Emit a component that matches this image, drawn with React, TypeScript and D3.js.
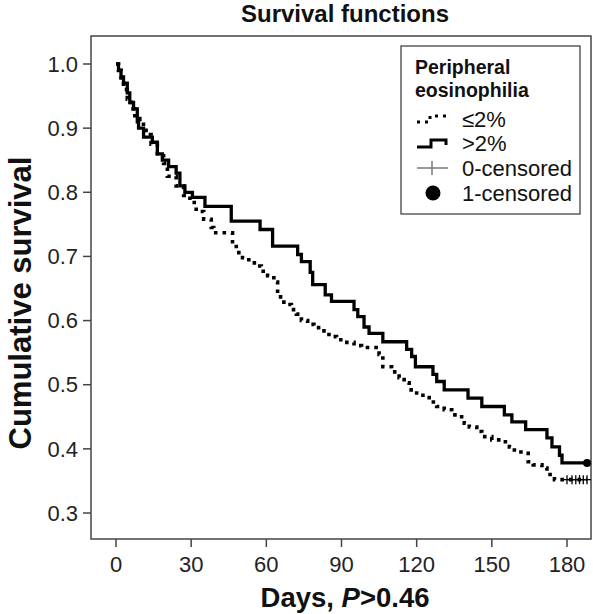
import React from "react";
import * as d3 from "d3";

// ---------- data ----------
const xTicks = [0, 30, 60, 90, 120, 150, 180];
const yTicks = [0.3, 0.4, 0.5, 0.6, 0.7, 0.8, 0.9, 1.0];

// Group ≤2% (dotted)
const lowTimes = [0, 1, 2, 3, 4.5, 6, 7.5, 9.5, 12, 14, 16.5, 19, 20.5, 24, 27, 29.5, 32, 35, 38, 39, 46.5, 48, 50.5, 53, 56, 58, 60.5, 63, 64.5, 67, 70, 72, 74, 76.5, 79, 82, 85, 88, 91, 95, 98, 105, 106.5, 110, 113, 115, 117, 120, 122.5, 125, 128, 131, 134, 137, 139, 141, 144, 146, 150, 154, 157, 159, 163, 164.5, 166.5, 170, 172, 175];
const lowSurv = [1.0, 0.99, 0.975, 0.96, 0.945, 0.93, 0.915, 0.906, 0.89, 0.875, 0.86, 0.845, 0.825, 0.81, 0.795, 0.784, 0.77, 0.758, 0.745, 0.737, 0.72, 0.706, 0.698, 0.69, 0.685, 0.677, 0.67, 0.66, 0.637, 0.625, 0.617, 0.61, 0.6, 0.594, 0.589, 0.584, 0.575, 0.57, 0.566, 0.561, 0.558, 0.547, 0.528, 0.52, 0.511, 0.503, 0.492, 0.487, 0.48, 0.473, 0.466, 0.461, 0.453, 0.45, 0.44, 0.434, 0.427, 0.419, 0.414, 0.411, 0.403, 0.395, 0.393, 0.38, 0.375, 0.37, 0.36, 0.352];
const lowEnd = 188;
const lowCensored = [180, 182, 183.5, 185, 186.5, 188];

// Group >2% (solid)
const highTimes = [0, 1, 2, 3, 4.5, 5.5, 7, 8.5, 9, 11, 14.5, 16.5, 18.5, 21, 24, 25.5, 27.5, 30.5, 35.5, 46, 57.5, 62.5, 72.5, 74, 77.5, 78.5, 83.5, 86, 95, 96.5, 99, 101, 106.5, 116, 118, 119.5, 126.5, 128, 131, 140.5, 146, 155, 158, 163.5, 172, 174, 177, 178];
const highSurv = [1.0, 0.99, 0.98, 0.97, 0.955, 0.94, 0.93, 0.91, 0.9, 0.886, 0.878, 0.86, 0.85, 0.84, 0.83, 0.81, 0.8, 0.792, 0.778, 0.755, 0.742, 0.716, 0.703, 0.692, 0.675, 0.656, 0.64, 0.63, 0.617, 0.606, 0.59, 0.58, 0.567, 0.555, 0.544, 0.528, 0.516, 0.505, 0.492, 0.479, 0.466, 0.453, 0.442, 0.43, 0.417, 0.403, 0.39, 0.378];
const highEnd = 188;
const highCensored = [188];

const legendTitle = ["Peripheral", "eosinophilia"];
const legendLabels = ["≤2%", ">2%", "0-censored", "1-censored"];

// ---------- layout ----------
const W = 593;
const H = 614;
const frame = { left: 91, right: 591, top: 36, bottom: 539 };
const FONT = "'Liberation Sans', Arial, Helvetica, sans-serif";

const x = d3.scaleLinear().domain([0, 180]).range([116, 567]);
const y = d3.scaleLinear().domain([0.3, 1.0]).range([513, 64]);

function stepPoints(times: number[], surv: number[], end: number): [number, number][] {
  const pts: [number, number][] = times.map((t, i) => [t, surv[i]]);
  pts.push([end, surv[surv.length - 1]]);
  return pts;
}

const line = d3
  .line<[number, number]>()
  .x((d) => x(d[0]))
  .y((d) => y(d[1]))
  .curve(d3.curveStepAfter);

export default function App() {
  const lowPath = line(stepPoints(lowTimes, lowSurv, lowEnd)) || "";
  const highPath = line(stepPoints(highTimes, highSurv, highEnd)) || "";
  const lowLast = lowSurv[lowSurv.length - 1];
  const highLast = highSurv[highSurv.length - 1];
  const fmt = d3.format(".1f");

  const lg = { x: 401, y: 46, w: 179, h: 168 };
  const rowY = [119, 143, 168, 193];

  return (
    <svg
      width={W}
      height={H}
      style={{ position: "absolute", left: 0, top: 0, background: "#fff" }}
      fontFamily={FONT}
    >
      <rect x={0} y={0} width={W} height={H} fill="#fff" />
      {/* title */}
      <text x={345} y={22} textAnchor="middle" fontSize={24} fontWeight="bold" fill="#111">
        Survival functions
      </text>

      {/* frame */}
      <rect
        x={frame.left}
        y={frame.top}
        width={frame.right - frame.left}
        height={frame.bottom - frame.top}
        fill="none"
        stroke="#444"
        strokeWidth={1.5}
      />

      {/* y ticks */}
      {yTicks.map((t) => (
        <g key={"y" + t}>
          <line x1={frame.left - 8} x2={frame.left} y1={y(t)} y2={y(t)} stroke="#444" strokeWidth={1.5} />
          <text x={frame.left - 13} y={y(t)} dy="0.35em" textAnchor="end" fontSize={22} fill="#222">
            {fmt(t)}
          </text>
        </g>
      ))}

      {/* x ticks */}
      {xTicks.map((t) => (
        <g key={"x" + t}>
          <line x1={x(t)} x2={x(t)} y1={frame.bottom} y2={frame.bottom + 8} stroke="#444" strokeWidth={1.5} />
          <text x={x(t)} y={frame.bottom + 25} dy="0.35em" textAnchor="middle" fontSize={22} fill="#222">
            {t}
          </text>
        </g>
      ))}

      {/* axis titles */}
      <text x={345} y={607} textAnchor="middle" fontSize={27.5} fontWeight="bold" fill="#111">
        Days, <tspan fontStyle="italic">P</tspan>&gt;0.46
      </text>
      <text
        transform={`translate(31, 303) rotate(-90)`}
        textAnchor="middle"
        fontSize={31}
        fontWeight="bold"
        fill="#111"
      >
        Cumulative survival
      </text>

      {/* curves */}
      <path d={lowPath} fill="none" stroke="#000" strokeWidth={3.6} strokeDasharray="3.6,5" />
      <path d={highPath} fill="none" stroke="#000" strokeWidth={3.3} />

      {/* censor marks */}
      {lowCensored.map((t, i) => (
        <g key={"c0" + i} stroke="#000" strokeWidth={1.3}>
          <line x1={x(t) - 4} x2={x(t) + 4} y1={y(lowLast)} y2={y(lowLast)} />
          <line x1={x(t)} x2={x(t)} y1={y(lowLast) - 4.5} y2={y(lowLast) + 4.5} />
        </g>
      ))}
      {highCensored.map((t, i) => (
        <circle key={"c1" + i} cx={x(t)} cy={y(highLast)} r={4} fill="#000" />
      ))}

      {/* legend */}
      <rect x={lg.x} y={lg.y} width={lg.w} height={lg.h} fill="#fff" stroke="#444" strokeWidth={1.3} />
      <text x={415} y={67} dy="0.35em" fontSize={19.5} fontWeight="bold" fill="#111">
        {legendTitle[0]}
      </text>
      <text x={415} y={90} dy="0.35em" fontSize={19.5} fontWeight="bold" fill="#111">
        {legendTitle[1]}
      </text>
      <path
        d={`M417,${rowY[0] + 3} H430 V${rowY[0] - 3} H446 V${rowY[0] + 1}`}
        fill="none"
        stroke="#000"
        strokeWidth={3}
        strokeDasharray="3,5"
      />
      <path
        d={`M417,${rowY[1] + 4} H431 V${rowY[1] - 3} H446 V${rowY[1] + 2}`}
        fill="none"
        stroke="#000"
        strokeWidth={3}
      />
      <line x1={417} x2={448} y1={rowY[2]} y2={rowY[2]} stroke="#777" strokeWidth={1.5} />
      <line x1={432} x2={432} y1={rowY[2] - 7} y2={rowY[2] + 7} stroke="#777" strokeWidth={1.5} />
      <circle cx={433} cy={rowY[3]} r={7.5} fill="#000" />
      {legendLabels.map((l, i) => (
        <text key={l} x={462} y={rowY[i]} dy="0.35em" fontSize={22} fill="#111">
          {l}
        </text>
      ))}
    </svg>
  );
}
